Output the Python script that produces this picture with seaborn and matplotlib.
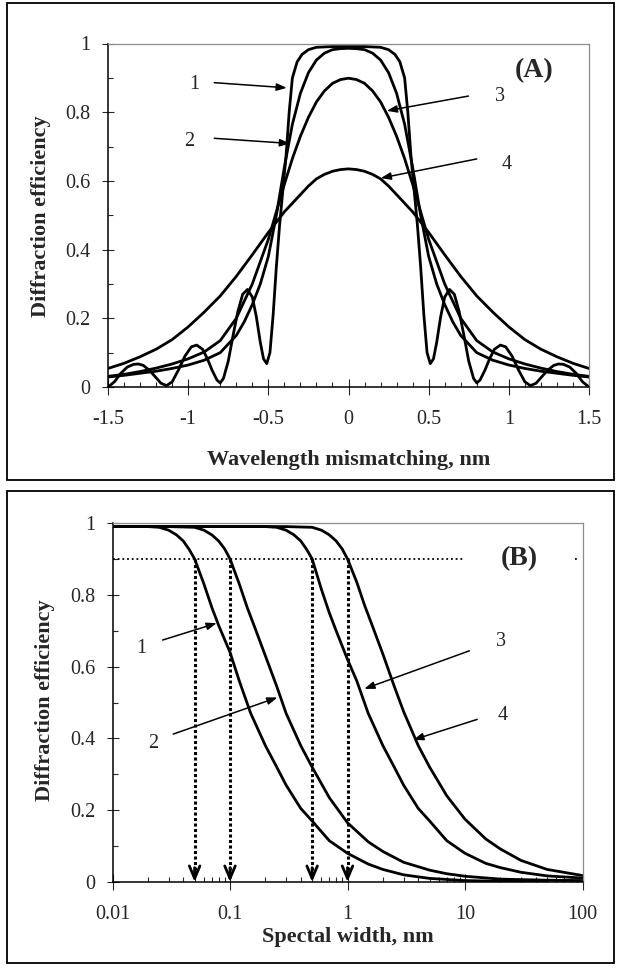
import numpy as np
import pandas as pd
import matplotlib
matplotlib.use("Agg")
import matplotlib.pyplot as plt
import seaborn as sns
from matplotlib.ticker import MultipleLocator, LogLocator, NullFormatter
from matplotlib.patches import Rectangle

# ---------------- data: panel (A) ----------------
xA1 = [-1.50, -1.46, -1.42, -1.38, -1.34, -1.31, -1.28, -1.24, -1.20, -1.17, -1.135, -1.10, -1.06, -1.02,
       -0.98, -0.947, -0.91, -0.88, -0.85, -0.82, -0.80, -0.78, -0.75, -0.72, -0.69, -0.66, -0.63, -0.60,
       -0.575, -0.55, -0.53, -0.51, -0.49, -0.47, -0.45, -0.43, -0.41, -0.39, -0.37, -0.35, -0.32, -0.29,
       -0.25, -0.20, -0.10, 0.0,
       0.10, 0.20, 0.25, 0.29, 0.32, 0.35, 0.37, 0.39, 0.41, 0.43, 0.45, 0.47, 0.49, 0.51, 0.53, 0.55,
       0.575, 0.60, 0.63, 0.66, 0.69, 0.72, 0.75, 0.78, 0.80, 0.82, 0.85, 0.88, 0.91, 0.947, 0.98, 1.02,
       1.06, 1.10, 1.135, 1.17, 1.20, 1.24, 1.28, 1.31, 1.34, 1.38, 1.42, 1.46, 1.50]
yA1 = [0.000, 0.015, 0.040, 0.058, 0.066, 0.067, 0.063, 0.048, 0.027, 0.011, 0.004, 0.015, 0.050, 0.090,
       0.117, 0.122, 0.110, 0.082, 0.048, 0.020, 0.012, 0.025, 0.075, 0.150, 0.220, 0.270, 0.284, 0.262,
       0.205, 0.130, 0.082, 0.068, 0.100, 0.210, 0.350, 0.470, 0.570, 0.670, 0.800, 0.900, 0.947, 0.968,
       0.982, 0.989, 0.991, 0.991,
       0.991, 0.989, 0.982, 0.968, 0.947, 0.900, 0.800, 0.670, 0.570, 0.470, 0.350, 0.210, 0.100, 0.068,
       0.082, 0.130, 0.205, 0.262, 0.284, 0.270, 0.220, 0.150, 0.075, 0.025, 0.012, 0.020, 0.048, 0.082,
       0.110, 0.122, 0.117, 0.090, 0.050, 0.015, 0.004, 0.011, 0.027, 0.048, 0.063, 0.067, 0.066, 0.058,
       0.040, 0.015, 0.000]

xA2 = [-1.5, -1.4, -1.3, -1.2, -1.1, -1.0, -0.9, -0.8, -0.7, -0.65, -0.6, -0.55, -0.5, -0.45, -0.4, -0.35,
       -0.3, -0.25, -0.2, -0.15, -0.1, -0.05, 0.0, 0.05, 0.1, 0.15, 0.2, 0.25, 0.3, 0.35, 0.4, 0.45, 0.5,
       0.55, 0.6, 0.65, 0.7, 0.8, 0.9, 1.0, 1.1, 1.2, 1.3, 1.4, 1.5]
yA2 = [0.029, 0.034, 0.040, 0.046, 0.054, 0.064, 0.078, 0.100, 0.150, 0.190, 0.240, 0.300, 0.380, 0.500,
       0.640, 0.765, 0.855, 0.915, 0.952, 0.972, 0.982, 0.985, 0.986, 0.985, 0.982, 0.972, 0.952, 0.915,
       0.855, 0.765, 0.640, 0.500, 0.380, 0.300, 0.240, 0.190, 0.150, 0.100, 0.078, 0.064, 0.054, 0.046,
       0.040, 0.034, 0.029]

xA3 = [-1.5, -1.4, -1.3, -1.2, -1.1, -1.0, -0.9, -0.8, -0.7, -0.6, -0.5, -0.4, -0.35, -0.3, -0.25, -0.2,
       -0.15, -0.1, -0.05, 0.0, 0.05, 0.1, 0.15, 0.2, 0.25, 0.3, 0.35, 0.4, 0.5, 0.6, 0.7, 0.8, 0.9, 1.0,
       1.1, 1.2, 1.3, 1.4, 1.5]
yA3 = [0.031, 0.037, 0.045, 0.055, 0.067, 0.082, 0.102, 0.135, 0.200, 0.300, 0.430, 0.590, 0.665, 0.730,
       0.785, 0.830, 0.862, 0.884, 0.895, 0.899, 0.895, 0.884, 0.862, 0.830, 0.785, 0.730, 0.665, 0.590,
       0.430, 0.300, 0.200, 0.135, 0.102, 0.082, 0.067, 0.055, 0.045, 0.037, 0.031]

xA4 = [-1.5, -1.4, -1.3, -1.2, -1.1, -1.0, -0.9, -0.8, -0.7, -0.6, -0.5, -0.4, -0.3, -0.25, -0.2, -0.15,
       -0.1, -0.05, 0.0, 0.05, 0.1, 0.15, 0.2, 0.25, 0.3, 0.4, 0.5, 0.6, 0.7, 0.8, 0.9, 1.0, 1.1, 1.2,
       1.3, 1.4, 1.5]
yA4 = [0.054, 0.069, 0.088, 0.110, 0.138, 0.175, 0.218, 0.265, 0.322, 0.385, 0.450, 0.510, 0.560, 0.585,
       0.606, 0.619, 0.628, 0.633, 0.635, 0.633, 0.628, 0.619, 0.606, 0.585, 0.560, 0.510, 0.450, 0.385,
       0.322, 0.265, 0.218, 0.175, 0.138, 0.110, 0.088, 0.069, 0.054]

# ---------------- data: panel (B) ----------------
xB1 = [0.01, 0.02, 0.025, 0.03, 0.035, 0.04, 0.045, 0.05, 0.06, 0.07, 0.08, 0.1, 0.12, 0.15, 0.2, 0.25,
       0.3, 0.4, 0.5, 0.7, 1.0, 1.5, 2, 3, 5, 10, 20, 50]
yB1 = [0.99, 0.99, 0.988, 0.98, 0.967, 0.95, 0.926, 0.90, 0.83, 0.765, 0.715, 0.64, 0.56, 0.47, 0.38, 0.32,
       0.27, 0.205, 0.17, 0.115, 0.08, 0.05, 0.035, 0.02, 0.01, 0.004, 0.002, 0.0]

xB2 = [0.01, 0.03, 0.05, 0.06, 0.07, 0.08, 0.09, 0.1, 0.12, 0.14, 0.16, 0.2, 0.25, 0.3, 0.4, 0.5, 0.7,
       1.0, 1.5, 2, 3, 5, 7, 10, 20, 50, 100]
yB2 = [0.99, 0.99, 0.988, 0.98, 0.967, 0.95, 0.928, 0.90, 0.83, 0.765, 0.715, 0.63, 0.545, 0.47, 0.38,
       0.32, 0.235, 0.165, 0.112, 0.085, 0.055, 0.033, 0.023, 0.016, 0.008, 0.005, 0.004]

xB3 = [0.01, 0.1, 0.2, 0.25, 0.3, 0.35, 0.4, 0.45, 0.5, 0.6, 0.7, 0.8, 1.0, 1.2, 1.5, 2, 2.5, 3, 4, 5, 7,
       10, 15, 20, 30, 50, 100]
yB3 = [0.99, 0.99, 0.99, 0.988, 0.98, 0.967, 0.95, 0.926, 0.90, 0.815, 0.75, 0.70, 0.62, 0.56, 0.47, 0.38,
       0.32, 0.27, 0.205, 0.17, 0.115, 0.08, 0.052, 0.04, 0.027, 0.017, 0.011]

xB4 = [0.01, 0.1, 0.3, 0.5, 0.6, 0.7, 0.8, 0.9, 1.0, 1.2, 1.4, 1.6, 2.0, 2.5, 3, 4, 5, 7, 10, 15, 20, 30,
       50, 100]
yB4 = [0.99, 0.99, 0.99, 0.988, 0.98, 0.967, 0.95, 0.928, 0.90, 0.835, 0.77, 0.72, 0.635, 0.545, 0.475,
       0.38, 0.32, 0.24, 0.175, 0.12, 0.092, 0.06, 0.035, 0.018]

marks_B = [0.05, 0.1, 0.5, 1.0]      # vertical dotted arrows
level_B = 0.9                        # horizontal dotted line

xticksA = [-1.5, -1.0, -0.5, 0.0, 0.5, 1.0, 1.5]
xlabelsA = ["-1.5", "-1", "-0.5", "0", "0.5", "1", "1.5"]
yticks = [0, 0.2, 0.4, 0.6, 0.8, 1.0]
ylabels = ["0", "0.2", "0.4", "0.6", "0.8", "1"]
xticksB = [0.01, 0.1, 1, 10, 100]
xlabelsB = ["0.01", "0.1", "1", "10", "100"]

# curve labels: (text, label pos, arrow start, arrow tip)
labelsA = [("1", (-0.963, 0.881), (-0.837, 0.886), (-0.385, 0.871)),
           ("2", (-0.995, 0.716), (-0.837, 0.724), (-0.365, 0.709)),
           ("3", (0.945, 0.846), (0.748, 0.847), (0.239, 0.804)),
           ("4", (0.989, 0.649), (0.80, 0.664), (0.201, 0.608))]
labelsB = [("1", (0.0177, 0.651), (0.0267, 0.674), (0.0771, 0.721)),
           ("2", (0.022, 0.386), (0.0329, 0.412), (0.253, 0.514)),
           ("3", (20.2, 0.671), (10.9, 0.644), (1.39, 0.538)),
           ("4", (21.0, 0.464), (12.7, 0.453), (3.63, 0.396))]

# ---------------- style ----------------
sns.set_style("ticks")
plt.rcParams['font.family'] = ['Liberation Serif', 'DejaVu Serif']
plt.rcParams['axes.unicode_minus'] = False

W, H = 618, 968
fig = plt.figure(figsize=(W / 100, H / 100), dpi=100)

def fx(px):
    return px / W

def fy(py):
    return 1 - py / H

axA = fig.add_axes([fx(108), fy(387), fx(589) - fx(108), fy(43.5) - fy(387)])
axB = fig.add_axes([fx(112.5), fy(882), fx(582.5) - fx(112.5), fy(523) - fy(882)])

# outer frames
for top, bot in [(3, 480), (491, 963)]:
    fig.add_artist(Rectangle((fx(7), fy(bot)), fx(614) - fx(7), fy(top) - fy(bot),
                             transform=fig.transFigure, fill=False, lw=1.3, ec='black'))

lw = 2.0
for xs, ys in [(xA1, yA1), (xA2, yA2), (xA3, yA3), (xA4, yA4)]:
    sns.lineplot(x=xs, y=ys, ax=axA, color='black', lw=lw, estimator=None, sort=False)
for xs, ys in [(xB1, yB1), (xB2, yB2), (xB3, yB3), (xB4, yB4)]:
    sns.lineplot(x=xs, y=ys, ax=axB, color='black', lw=lw, estimator=None, sort=False)

def style_axis(ax):
    for s in ['left', 'bottom']:
        ax.spines[s].set_color('black')
        ax.spines[s].set_linewidth(1.1)
    for s in ['top', 'right']:
        ax.spines[s].set_visible(True)
        ax.spines[s].set_color('#8c8c8c')
        ax.spines[s].set_linewidth(0.9)
    ax.set_yticks(yticks)
    ax.set_yticklabels(ylabels)
    ax.yaxis.set_minor_locator(MultipleLocator(0.1))
    ax.tick_params(axis='y', which='major', direction='inout', length=9, width=0.8,
                   labelsize=14.5, pad=8, left=True)
    ax.tick_params(axis='y', which='minor', direction='in', length=3.5, width=0.8, left=True)
    ax.tick_params(axis='x', which='major', direction='inout', length=11, width=0.8,
                   labelsize=14.5, pad=11, bottom=True)
    ax.tick_params(axis='x', which='minor', direction='in', length=3.5, width=0.8, bottom=True)
    ax.set_ylim(0, 1)
    ax.set_xlabel("")
    ax.set_ylabel("")
    ax.set_facecolor('white')

style_axis(axA)
axA.set_xlim(-1.5, 1.5)
axA.set_xticks(xticksA)
axA.set_xticklabels(xlabelsA)
axA.xaxis.set_minor_locator(MultipleLocator(0.1))

axB.set_xscale('log')
style_axis(axB)
axB.set_xlim(0.01, 100)
axB.set_xticks(xticksB)
axB.set_xticklabels(xlabelsB)
axB.xaxis.set_minor_locator(LogLocator(base=10, subs=np.arange(2, 10)))
axB.xaxis.set_minor_formatter(NullFormatter())

# curve labels + arrows
def add_labels(ax, items):
    for txt, lp, a0, a1 in items:
        ax.text(lp[0], lp[1], txt, fontsize=14.5, ha='center', va='center')
        ax.annotate('', xy=a1, xytext=a0,
                    arrowprops=dict(arrowstyle='-|>,head_length=0.6,head_width=0.22',
                                    lw=1.1, color='black', shrinkA=0, shrinkB=0,
                                    mutation_scale=10))

add_labels(axA, labelsA)
add_labels(axB, labelsB)

axA.text(1.16, 0.92, "(A)", fontsize=20, fontweight='bold', ha='center', va='center')
axB.text(29, level_B, "(B)", fontsize=20, fontweight='bold', ha='center', va='center')

# dotted guide lines in (B)
axB.plot([0.01, 10], [level_B, level_B], color='black', lw=1.3, ls=(0, (1, 1.6)))
axB.plot([86, 94], [level_B, level_B], color='black', lw=1.3, ls=(0, (1, 1.6)))
for xm in marks_B:
    axB.plot([xm, xm], [level_B, 0.012], color='black', lw=2.2, ls=(0, (1, 0.8)))
    axB.annotate('', xy=(xm, 0.0), xytext=(xm, 0.04),
                 arrowprops=dict(arrowstyle='->,head_length=0.9,head_width=0.38',
                                 lw=2.0, color='black', shrinkA=0, shrinkB=0,
                                 mutation_scale=10))

# axis titles
fig.text(fx(348.5), fy(460), "Wavelength mismatching, nm", fontsize=16, fontweight='bold',
         ha='center', va='center')
fig.text(fx(347.5), fy(937), "Spectal width, nm", fontsize=16, fontweight='bold',
         ha='center', va='center')
fig.text(fx(41), fy(216), "Diffraction efficiency", fontsize=16, fontweight='bold',
         ha='center', va='center', rotation=90)
fig.text(fx(45), fy(700), "Diffraction efficiency", fontsize=16, fontweight='bold',
         ha='center', va='center', rotation=90)

fig.savefig("out.png", dpi=100)
